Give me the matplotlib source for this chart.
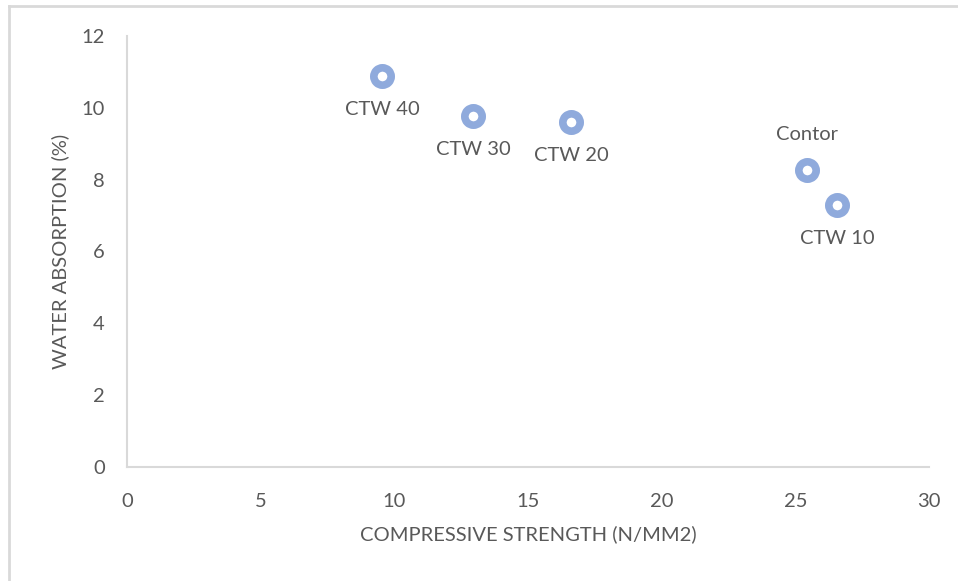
import matplotlib
matplotlib.use("Agg")
import matplotlib.pyplot as plt
from matplotlib.lines import Line2D

plt.rcParams['font.family'] = ['Lato', 'DejaVu Sans']

# Mix data: compressive strength vs water absorption
mixes = ["CTW 40", "CTW 30", "CTW 20", "Contor", "CTW 10"]
strength = [9.54, 12.94, 16.61, 25.44, 26.56]
absorption = [10.89, 9.78, 9.61, 8.27, 7.30]
label_side = ["below", "below", "below", "above", "below"]

x_ticks = [0, 5, 10, 15, 20, 25, 30]
y_ticks = [0, 2, 4, 6, 8, 10, 12]

text_color = "#595959"
axis_color = "#D9D9D9"
marker_color = "#8FAADC"
fs = 14.5

fig = plt.figure(figsize=(9.58, 5.81), dpi=100)
ax = fig.add_axes([127 / 958, 1 - 467 / 581, (929 - 127) / 958, (467 - 36) / 581])

ax.plot(strength, absorption, linestyle="none", marker="o", markersize=12.5,
        markerfacecolor="white", markeredgecolor=marker_color, markeredgewidth=5.5,
        zorder=3, clip_on=False)

for name, x, y, side in zip(mixes, strength, absorption, label_side):
    dy = -24.5 if side == "below" else 25.5
    ax.annotate(name, (x, y), xytext=(0, dy), textcoords="offset points",
                ha="center", va="center", fontsize=fs, color=text_color)

ax.set_xlim(0, 30)
ax.set_ylim(0, 12)
ax.set_xticks(x_ticks)
ax.set_yticks(y_ticks)
ax.tick_params(axis="both", length=0, labelsize=fs, labelcolor=text_color)
ax.tick_params(axis="x", pad=19)
ax.tick_params(axis="y", pad=16)

for side in ("top", "right"):
    ax.spines[side].set_visible(False)
for side in ("left", "bottom"):
    ax.spines[side].set_color(axis_color)
    ax.spines[side].set_linewidth(1.5)

ax.set_xlabel("COMPRESSIVE STRENGTH (N/MM2)", fontsize=fs, color=text_color, labelpad=11)
ax.set_ylabel("WATER ABSORPTION (%)", fontsize=fs, color=text_color, labelpad=9)

# Light frame along the top and left edges of the chart area
fig.add_artist(Line2D([9 / 958, 9 / 958], [0, 1 - 6 / 581], transform=fig.transFigure,
                      color="#D9D9D9", linewidth=2))
fig.add_artist(Line2D([9 / 958, 1], [1 - 6 / 581, 1 - 6 / 581], transform=fig.transFigure,
                      color="#D9D9D9", linewidth=2))

fig.savefig("out.png", dpi=100, facecolor="white")
